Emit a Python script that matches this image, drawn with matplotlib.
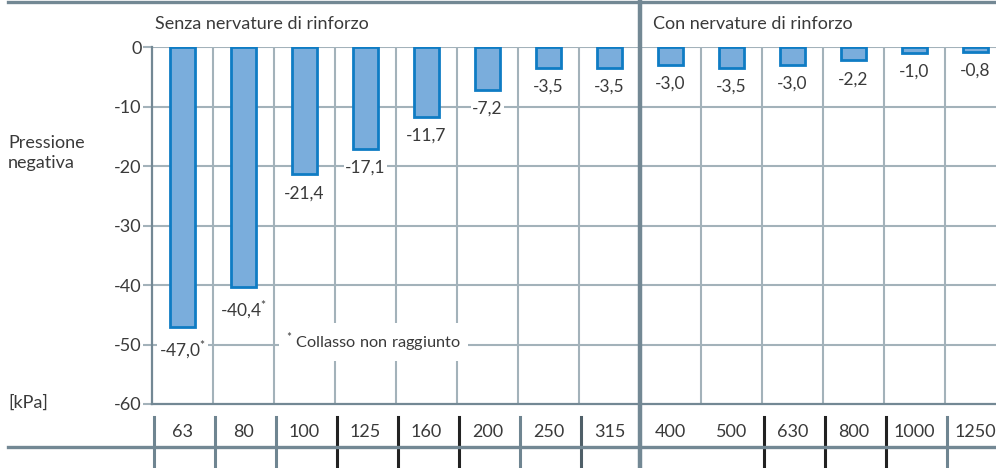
import matplotlib
matplotlib.use("Agg")
import matplotlib.pyplot as plt
from matplotlib.lines import Line2D
from matplotlib import transforms

plt.rcParams['font.family'] = ['Lato', 'DejaVu Sans']
plt.rcParams['mathtext.fontset'] = 'custom'
plt.rcParams['mathtext.rm'] = 'Lato'

# Data
categories = ["63", "80", "100", "125", "160", "200", "250", "315",
              "400", "500", "630", "800", "1000", "1250"]
pressure = [-47.0, -40.4, -21.4, -17.1, -11.7, -7.2, -3.5, -3.5,
            -3.0, -3.5, -3.0, -2.2, -1.0, -0.8]
collapse_not_reached = [True, True, False, False, False, False, False, False,
                        False, False, False, False, False, False]
y_ticks = [0, -10, -20, -30, -40, -50, -60]
group_titles = ["Senza nervature di rinforzo", "Con nervature di rinforzo"]
footnote = "Collasso non raggiunto"
y_label = "Pressione\nnegativa"
unit_label = "[kPa]"

TXT = "#3a3a3a"
GRID = "#a3b2ba"
FRAME = "#738894"
BAR_FILL = "#7aaddc"
BAR_EDGE = "#0f7cc4"
FS = 13

W, H = 996, 468
fig = plt.figure(figsize=(W / 100, H / 100), dpi=100)
n = len(categories)
ax = fig.add_axes([152 / W, 64 / H, (61 * n) / W, 357 / H])
ax.set_xlim(0, n)
ax.set_ylim(-60, 0)

# grid
for t in y_ticks:
    if t != -60:
        ax.axhline(t, color=GRID, lw=1.5, zorder=1)
for i in range(1, n):
    if i != 8:
        ax.axvline(i, color=GRID, lw=1.5, zorder=1)

xs = [i + 0.5 for i in range(n)]
ax.bar(xs, pressure, width=0.41, color=BAR_FILL, edgecolor=BAR_EDGE,
       linewidth=2.0, zorder=3)

def fmt(v, star):
    s = f"{v:.1f}".replace(".", ",")
    return s + (r"$^{*}$" if star else "")

for x, v, st in zip(xs, pressure, collapse_not_reached):
    ax.annotate(fmt(v, st), (x, v), xytext=(0, -8), textcoords="offset points",
                ha="center", va="top", fontsize=12.5, color=TXT, zorder=4,
                bbox=dict(fc="white", ec="none", pad=1.2))

ax.text(2.2, -49.6, r"$^{*}$ " + footnote, ha="left", va="center",
        fontsize=11.8, color=TXT, zorder=4,
        bbox=dict(fc="white", ec="none", pad=5))

ax.set_yticks(y_ticks)
ax.set_yticklabels([str(t) for t in y_ticks], fontsize=FS, color=TXT)
ax.tick_params(axis="y", length=6.5, width=1.5, color=GRID, pad=1)
ax.set_xticks([])
for s in ("top", "right"):
    ax.spines[s].set_visible(False)
for s in ("left", "bottom"):
    ax.spines[s].set_color(FRAME)
    ax.spines[s].set_linewidth(1.6)
    ax.spines[s].set_zorder(2)

# table frame around the chart
bt = transforms.blended_transform_factory(ax.transData, fig.transFigure)

def fy(py):
    return 1 - py / H

fig.add_artist(Line2D([8 / W, 1], [fy(1.5), fy(1.5)], color=FRAME, lw=2.4))
fig.add_artist(Line2D([8 / W, 1], [fy(447), fy(447)], color=FRAME, lw=2.4))
ax.add_line(Line2D([8, 8], [0, 1], transform=bt, color=FRAME, lw=3.2,
                   clip_on=False, zorder=5))

sep_colors = ["#6f8591", "#6f8591", "#6f8591", "#222222", "#222222", "#222222",
              "#6f8591", "#4f5f68", None, None, "#222222", "#222222", "#222222",
              "#6f8591"]
for i, c in enumerate(sep_colors):
    if c is None:
        continue
    ax.add_line(Line2D([i + 0.03, i + 0.03], [fy(417), 0], transform=bt,
                       color=c, lw=2.2, clip_on=False, zorder=5))

for x, c in zip(xs, categories):
    ax.text(x, fy(432), c, transform=bt, ha="center", va="center",
            fontsize=FS, color=TXT, clip_on=False)

fig.text(155 / W, fy(24), group_titles[0], ha="left", va="center",
         fontsize=FS, color=TXT)
fig.text(653 / W, fy(24), group_titles[1], ha="left", va="center",
         fontsize=FS, color=TXT)
fig.text(8 / W, fy(153), y_label, ha="left", va="center", fontsize=FS,
         color=TXT, linespacing=1.35)
fig.text(8 / W, fy(403), unit_label, ha="left", va="center", fontsize=FS,
         color=TXT)

fig.savefig("out.png", dpi=100, facecolor="white")
